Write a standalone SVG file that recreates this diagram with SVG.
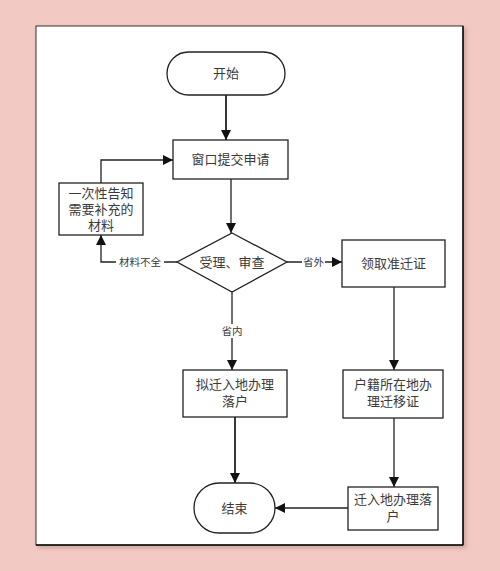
<svg xmlns="http://www.w3.org/2000/svg" width="500" height="571" viewBox="0 0 500 571">
<style>
.shape{fill:#fff;stroke:#222;stroke-width:1.3}
.t{font-family:"Liberation Serif","Noto Sans CJK SC",serif;font-size:13px;fill:#3a3a3a;text-anchor:middle}
.lbl{font-family:"Liberation Serif","Noto Sans CJK SC",serif;font-size:10.5px;fill:#3a3a3a;text-anchor:middle}
.c{fill:none;stroke:#222;stroke-width:1.3}
.c2{fill:none;stroke:#222;stroke-width:1.8}
</style>
<defs>
<marker id="ah" viewBox="0 0 10 10" refX="10" refY="5" markerWidth="10" markerHeight="10" markerUnits="userSpaceOnUse" orient="auto">
<path d="M0,0 L10,5 L0,10 z" fill="#111"/>
</marker>
<filter id="sh" x="-5%" y="-5%" width="110%" height="110%">
<feGaussianBlur stdDeviation="2"/>
</filter>
</defs>
<rect width="500" height="571" fill="#f3c9c3"/>
<rect x="38" y="28" width="428" height="520" fill="#c9a09b" filter="url(#sh)"/>
<rect x="36" y="26" width="427" height="519" fill="#fff" stroke="#333" stroke-width="1"/>
<line x1="463" y1="26" x2="463" y2="545" stroke="#111" stroke-width="1.5"/>
<line x1="36" y1="545" x2="463" y2="545" stroke="#111" stroke-width="1.5"/>

<g id="connectors">
<path class="c2" d="M226,95 V140" marker-end="url(#ah)"/>
<path class="c" d="M231,179 V233" marker-end="url(#ah)"/>
<path class="c" d="M177,262 H101 V235" marker-end="url(#ah)"/>
<path class="c" d="M101,183 V160 H173" marker-end="url(#ah)"/>
<path class="c" d="M287,262 H342" marker-end="url(#ah)"/>
<path class="c" d="M232,292 V370" marker-end="url(#ah)"/>
<path class="c" d="M394,287 V370" marker-end="url(#ah)"/>
<path class="c2" d="M235,417 V483" marker-end="url(#ah)"/>
<path class="c" d="M394,418 V487" marker-end="url(#ah)"/>
<path class="c" d="M348,508 H275" marker-end="url(#ah)"/>
<rect x="116" y="255" width="48" height="14" fill="#fff"/>
<text class="lbl" x="140" y="266">材料不全</text>
<rect x="302" y="255" width="23" height="14" fill="#fff"/>
<text class="lbl" x="313.5" y="266">省外</text>
<rect x="221" y="324" width="23" height="14" fill="#fff"/>
<text class="lbl" x="232" y="335">省内</text>
</g>

<g id="start">
<rect class="shape" x="167" y="52" width="118" height="43" rx="21.5"/>
<text class="t" x="226" y="78">开始</text>
</g>
<g id="submit">
<rect class="shape" x="173" y="140" width="115" height="39"/>
<text class="t" x="230.5" y="164">窗口提交申请</text>
</g>
<g id="notify">
<rect class="shape" x="59" y="183" width="84" height="52"/>
<text class="t" x="101" y="198">一次性告知</text>
<text class="t" x="101" y="214">需要补充的</text>
<text class="t" x="101" y="230">材料</text>
</g>
<g id="review">
<polygon class="shape" points="232,233 287,262 232,292 177,262"/>
<text class="t" x="232" y="267">受理、审查</text>
</g>
<g id="permit">
<rect class="shape" x="342" y="240" width="103" height="47"/>
<text class="t" x="393.5" y="268">领取准迁证</text>
</g>
<g id="inprov">
<rect class="shape" x="183" y="370" width="104" height="47"/>
<text class="t" x="235" y="389">拟迁入地办理</text>
<text class="t" x="235" y="406">落户</text>
</g>
<g id="migrate">
<rect class="shape" x="343" y="370" width="100" height="48"/>
<text class="t" x="393" y="389">户籍所在地办</text>
<text class="t" x="393" y="406">理迁移证</text>
</g>
<g id="settle">
<rect class="shape" x="348" y="487" width="90" height="43"/>
<text class="t" x="393" y="504">迁入地办理落</text>
<text class="t" x="393" y="521">户</text>
</g>
<g id="end">
<rect class="shape" x="194" y="483" width="81" height="50" rx="25"/>
<text class="t" x="234.5" y="513">结束</text>
</g>
</svg>
